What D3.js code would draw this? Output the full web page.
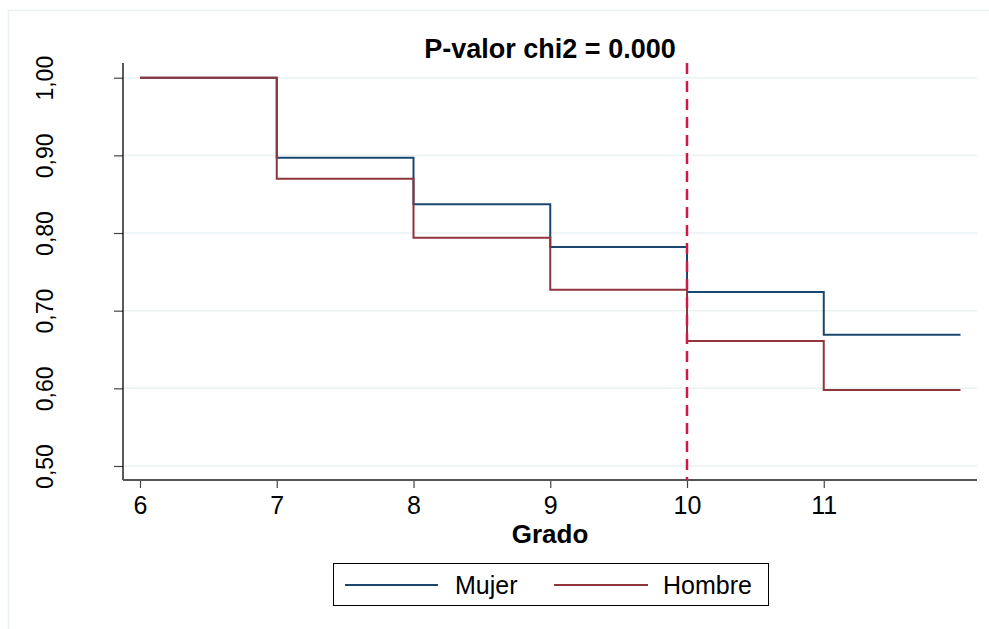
<!DOCTYPE html>
<html>
<head>
<meta charset="utf-8">
<script src="https://cdn.jsdelivr.net/npm/d3@7"></script>
<style>
  html, body { margin: 0; padding: 0; background: #fff; }
  svg { display: block; font-family: Arial, "Liberation Sans", sans-serif; }
</style>
</head>
<body>
<svg id="chart" width="989" height="629"></svg>
<script>
// Survival by school grade, step curves per sex
const grades = [6, 7, 8, 9, 10, 11, 12];
const mujer  = [1.000, 0.897, 0.837, 0.782, 0.724, 0.669, 0.669];
const hombre = [1.000, 0.870, 0.794, 0.727, 0.661, 0.598, 0.598];
const xTicks = [6, 7, 8, 9, 10, 11];
const yTicks = [0.5, 0.6, 0.7, 0.8, 0.9, 1.0];
const cutoffGrade = 10;
const titleText = "P-valor chi2 = 0.000";
const xTitle = "Grado";
const seriesNames = ["Mujer", "Hombre"];
const seriesColors = ["#1a476f", "#90353b"];

const svg = d3.select("#chart");
const fontFamily = "Arial, 'Liberation Sans', sans-serif";

// outer frame
svg.append("rect")
  .attr("x", 8.5).attr("y", 10.5)
  .attr("width", 1000).attr("height", 700)
  .attr("fill", "none").attr("stroke", "#eaf2f3").attr("stroke-width", 1.5);

const x = d3.scaleLinear().domain([6, 12]).range([140, 960.5]);
const y = d3.scaleLinear().domain([0.5, 1.0]).range([466, 77.7]);
const plotLeft = 123, plotRight = 977, plotTop = 63, plotBottom = 480;

// horizontal gridlines
svg.append("g").selectAll("line").data(yTicks).join("line")
  .attr("x1", plotLeft).attr("x2", plotRight)
  .attr("y1", d => y(d)).attr("y2", d => y(d))
  .attr("stroke", "#eaf2f3").attr("stroke-width", 1.5);

// y axis
const yFmt = d => d3.format(".2f")(d).replace(".", ",");
const yAxis = svg.append("g").attr("transform", `translate(${plotLeft},0)`)
  .call(d3.axisLeft(y).tickValues(yTicks).tickSize(9).tickFormat(yFmt));
yAxis.select(".domain").remove();
yAxis.selectAll(".tick line").attr("stroke", "#444").attr("stroke-width", 1.2);
yAxis.selectAll(".tick text").remove();
yAxis.selectAll(".tick").append("text")
  .attr("transform", "translate(-78,0) rotate(-90)")
  .attr("text-anchor", "middle").attr("dy", "0.35em")
  .attr("fill", "#000").attr("font-size", 23).attr("font-family", fontFamily)
  .text(yFmt);
svg.append("line")
  .attr("x1", plotLeft).attr("x2", plotLeft)
  .attr("y1", plotTop).attr("y2", plotBottom)
  .attr("stroke", "#000").attr("stroke-width", 1.3);

// x axis
const xAxis = svg.append("g").attr("transform", `translate(0,${plotBottom})`)
  .call(d3.axisBottom(x).tickValues(xTicks).tickSize(8).tickPadding(8)
    .tickFormat(d3.format("d")));
xAxis.select(".domain").remove();
xAxis.selectAll(".tick line").attr("stroke", "#444").attr("stroke-width", 1.2);
xAxis.selectAll(".tick text").attr("font-size", 25).attr("fill", "#000")
  .attr("font-family", fontFamily);
svg.append("line")
  .attr("x1", plotLeft).attr("x2", plotRight)
  .attr("y1", plotBottom).attr("y2", plotBottom)
  .attr("stroke", "#555").attr("stroke-width", 2);

// step curves
const line = d3.line().x(d => x(d[0])).y(d => y(d[1])).curve(d3.curveStepAfter);
[mujer, hombre].forEach((vals, i) => {
  svg.append("path")
    .datum(grades.map((g, j) => [g, vals[j]]))
    .attr("d", line)
    .attr("fill", "none")
    .attr("stroke", seriesColors[i])
    .attr("stroke-width", 2);
});

// reference line at cutoff grade
svg.append("line")
  .attr("x1", x(cutoffGrade)).attr("x2", x(cutoffGrade))
  .attr("y1", plotTop).attr("y2", plotBottom)
  .attr("stroke", "#d0174a").attr("stroke-width", 2.5)
  .attr("stroke-dasharray", "11,7");

// titles
svg.append("text")
  .attr("x", 550).attr("y", 58)
  .attr("text-anchor", "middle").attr("font-size", 27).attr("font-weight", "bold")
  .text(titleText);
svg.append("text")
  .attr("x", 550).attr("y", 543)
  .attr("text-anchor", "middle").attr("font-size", 26).attr("font-weight", "bold")
  .text(xTitle);

// legend
const legend = svg.append("g");
legend.append("rect")
  .attr("x", 333.5).attr("y", 563.5).attr("width", 435).attr("height", 42)
  .attr("fill", "#fff").attr("stroke", "#000").attr("stroke-width", 1);
const legendItems = [
  { name: seriesNames[0], color: seriesColors[0], x0: 345, x1: 438, tx: 455 },
  { name: seriesNames[1], color: seriesColors[1], x0: 554, x1: 648, tx: 663 }
];
legendItems.forEach(d => {
  legend.append("line")
    .attr("x1", d.x0).attr("x2", d.x1).attr("y1", 585).attr("y2", 585)
    .attr("stroke", d.color).attr("stroke-width", 2);
  legend.append("text")
    .attr("x", d.tx).attr("y", 594).attr("font-size", 25).attr("fill", "#000")
    .text(d.name);
});
</script>
</body>
</html>
